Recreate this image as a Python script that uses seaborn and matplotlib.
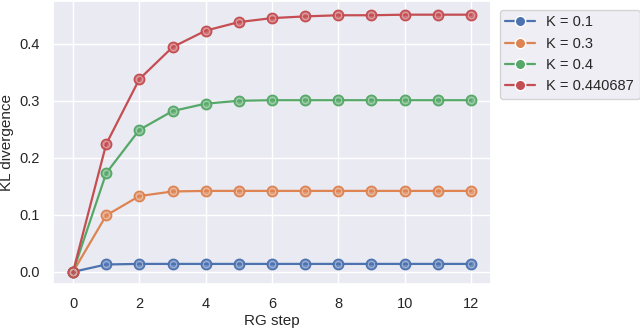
import pandas as pd
import seaborn as sns
import matplotlib.pyplot as plt

# --- DATA ---
rg_step = list(range(13))
k_labels = ["K = 0.1", "K = 0.3", "K = 0.4", "K = 0.440687"]
kl_k01 = [0.0, 0.013, 0.014, 0.014, 0.014, 0.014, 0.014, 0.014, 0.014, 0.014, 0.014, 0.014, 0.014]
kl_k03 = [0.0, 0.099, 0.133, 0.141, 0.142, 0.142, 0.142, 0.142, 0.142, 0.142, 0.142, 0.142, 0.142]
kl_k04 = [0.0, 0.173, 0.249, 0.282, 0.295, 0.300, 0.301, 0.301, 0.301, 0.301, 0.301, 0.301, 0.301]
kl_kc = [0.0, 0.224, 0.338, 0.394, 0.423, 0.438, 0.445, 0.448, 0.450, 0.450, 0.451, 0.451, 0.451]


def main():
    frames = []
    for label, vals in zip(k_labels, [kl_k01, kl_k03, kl_k04, kl_kc]):
        frames.append(pd.DataFrame({"RG step": rg_step, "KL divergence": vals, "K": label}))
    df = pd.concat(frames, ignore_index=True)

    sns.set_theme(style="darkgrid")
    plt.rcParams['font.family'] = ['Liberation Sans', 'DejaVu Sans']
    fig, ax = plt.subplots(figsize=(6.4, 3.32), dpi=100)

    palette = sns.color_palette()[:4]
    sns.lineplot(
        data=df, x="RG step", y="KL divergence", hue="K",
        palette=palette, marker="o", markersize=7.5,
        markeredgewidth=1.0, linewidth=1.6, ax=ax,
    )
    # ringed markers, like the original
    for line, c in zip(ax.get_lines()[:4], palette):
        line.set_markerfacecolor((*c, 0.8))
        line.set_markeredgecolor(c)
    for (label, grp), c in zip(df.groupby("K", sort=False), palette):
        light = tuple(0.55 * v + 0.45 for v in c)
        ax.plot(grp["RG step"], grp["KL divergence"], ls="none", marker="o",
                ms=4.5, mfc="none", mec=light, mew=0.8)

    ax.set_xticks(range(0, 13, 2))
    ax.set_yticks([0.0, 0.1, 0.2, 0.3, 0.4])
    ax.set_ylim(-0.021, 0.475)
    ax.tick_params(labelsize=10.5)
    ax.set_xlabel("RG step", fontsize=11, labelpad=2)
    ax.set_ylabel("KL divergence", fontsize=11, labelpad=4)

    ax.legend(loc="upper left", bbox_to_anchor=(1.01, 0.985), fontsize=10.5,
              title=None, handlelength=2.0, borderaxespad=0.3)

    fig.subplots_adjust(left=0.083, right=0.767, top=0.997, bottom=0.145)
    plt.savefig("out.png", dpi=100)


if __name__ == "__main__":
    main()
